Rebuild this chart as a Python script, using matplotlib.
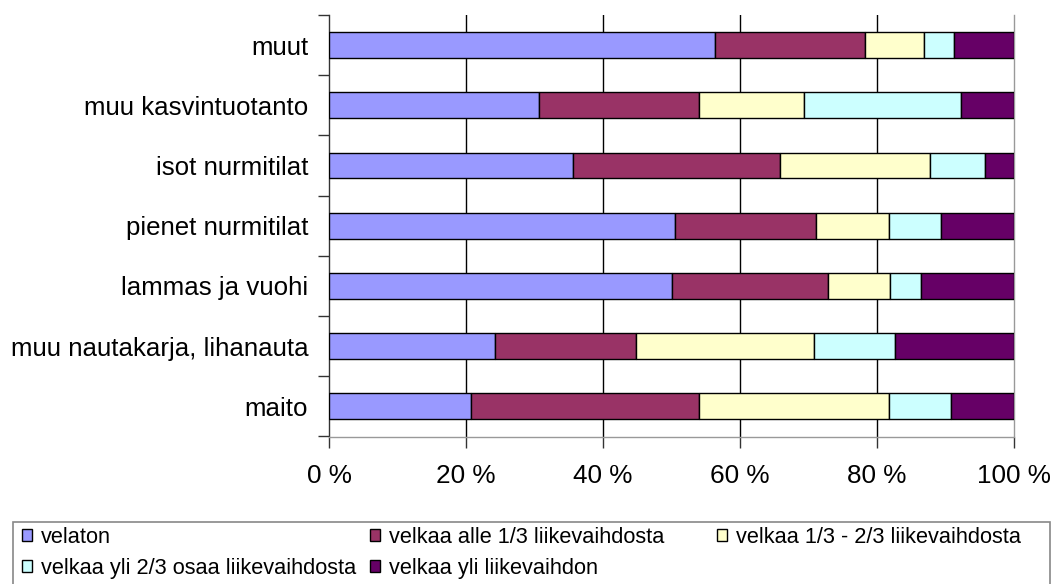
import matplotlib
matplotlib.use("Agg")
import matplotlib.pyplot as plt
from matplotlib.patches import Rectangle
import numpy as np

plt.rcParams['font.family'] = ['Liberation Sans', 'DejaVu Sans']

categories = ["maito", "muu nautakarja, lihanauta", "lammas ja vuohi",
              "pienet nurmitilat", "isot nurmitilat", "muu kasvintuotanto", "muut"]
series_names = ["velaton", "velkaa alle 1/3 liikevaihdosta",
                "velkaa 1/3 - 2/3 liikevaihdosta",
                "velkaa yli 2/3 osaa liikevaihdosta", "velkaa yli liikevaihdon"]
velaton = [20.7, 24.2, 50.0, 50.5, 35.6, 30.7, 56.4]
alle_1_3 = [33.3, 20.6, 22.8, 20.6, 30.2, 23.3, 21.9]
v_1_3_2_3 = [27.7, 26.0, 9.1, 10.6, 21.9, 15.3, 8.6]
yli_2_3 = [9.1, 11.9, 4.5, 7.7, 8.1, 23.0, 4.4]
yli_liikevaihdon = [9.2, 17.3, 13.6, 10.6, 4.2, 7.7, 8.7]
xtick_labels = ["0 %", "20 %", "40 %", "60 %", "80 %", "100 %"]

colors = ["#9999FF", "#993366", "#FFFFCC", "#CCFFFF", "#660066"]

fig = plt.figure(figsize=(10.56, 5.84), dpi=100)
ax = fig.add_axes([329/1056, 1-436.5/584, (1014-329)/1056, (436.5-15)/584])

y = np.arange(len(categories))
left = np.zeros(len(categories))
handles = []
for vals, c, name in zip([velaton, alle_1_3, v_1_3_2_3, yli_2_3, yli_liikevaihdon],
                         colors, series_names):
    vals = np.array(vals)
    b = ax.barh(y, vals, left=left, height=0.43, color=c, edgecolor="black",
                linewidth=1.0, label=name, zorder=3)
    handles.append(b)
    left = left + vals

ax.set_xlim(0, 100)
ax.set_ylim(-0.5, len(categories) - 0.5)
ax.set_xticks([0, 20, 40, 60, 80, 100])
ax.set_xticklabels(xtick_labels, fontsize=18.8)
ax.set_yticks(y)
ax.set_yticklabels(categories, fontsize=18.6)
ax.tick_params(axis='y', length=0, pad=15)
ax.set_yticks(np.arange(-0.5, len(categories), 1.0), minor=True)
ax.tick_params(axis='y', which='minor', length=8, width=1, color="#333333", direction='out')
ax.tick_params(axis='x', length=8, width=1, color="#333333", direction='out', pad=12)

for xv in [20, 40, 60, 80]:
    ax.axvline(xv, color="black", linewidth=1.0, zorder=1)

ax.spines['top'].set_visible(False)
ax.spines['right'].set_color("#999999")
ax.spines['bottom'].set_color("#999999")
ax.spines['left'].set_color("#333333")
for s in ax.spines.values():
    s.set_linewidth(1.0)

# legend frame
W, H = 1056, 584
frame = Rectangle((13/W, -0.01), (1050-13)/W, (584-522)/H + 0.01,
                  transform=fig.transFigure, fill=False, edgecolor="#888888",
                  linewidth=1.2)
fig.patches.append(frame)

legend_cols = [([handles[0], handles[3]], [series_names[0], series_names[3]], 22),
               ([handles[1], handles[4]], [series_names[1], series_names[4]], 370),
               ([handles[2]], [series_names[2]], 717)]
for hs, ls, xpx in legend_cols:
    fig.legend(hs, ls, loc='upper left', bbox_to_anchor=(xpx/W, 1-527/H),
               frameon=False, fontsize=15.7, borderpad=0, borderaxespad=0,
               handlelength=0.47, handleheight=0.47, handletextpad=0.4,
               labelspacing=0.45)

fig.savefig("out.png", dpi=100)
